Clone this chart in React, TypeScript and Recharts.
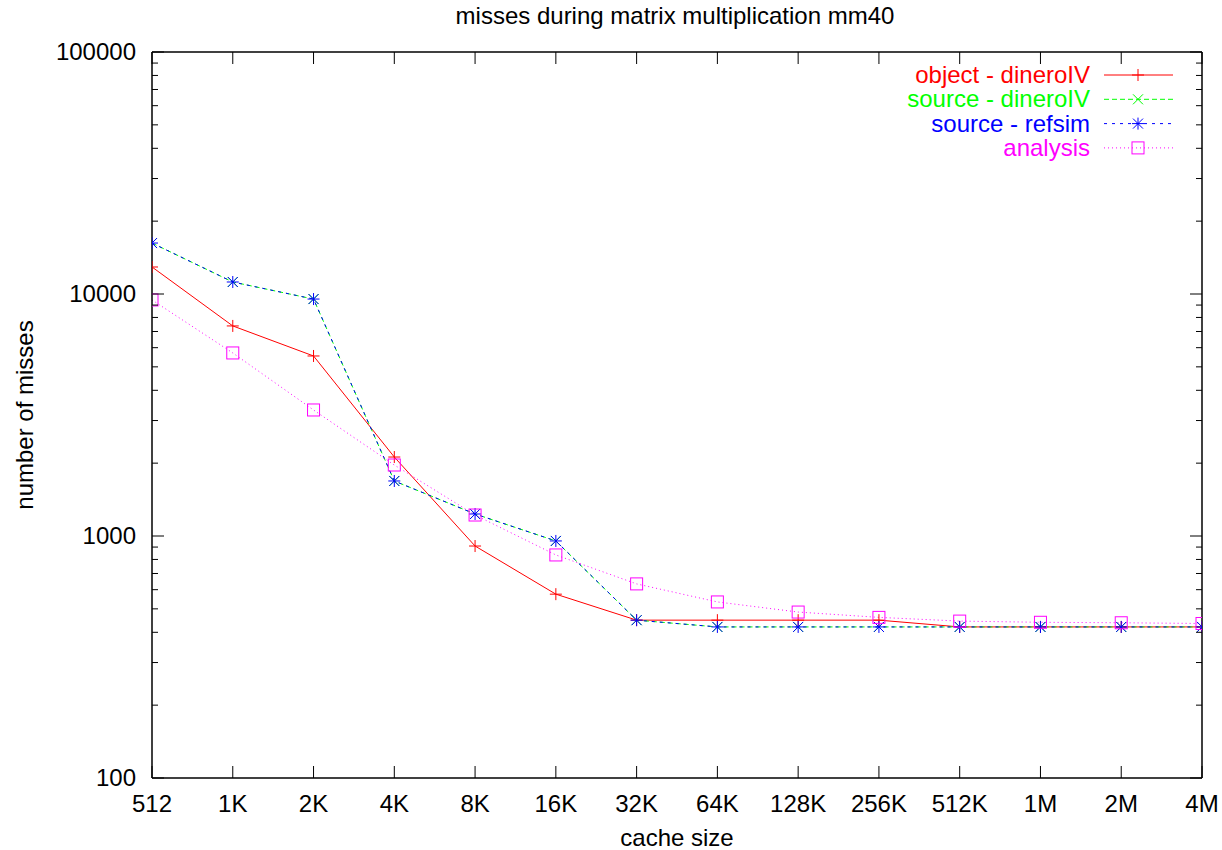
import React from 'react';
import { LineChart, Line, XAxis, YAxis, Legend } from 'recharts';

const cacheSizes = ['512', '1K', '2K', '4K', '8K', '16K', '32K', '64K', '128K', '256K', '512K', '1M', '2M', '4M'];
const objectDinero = [12930, 7380, 5545, 2120, 909, 575, 449, 449, 449, 449, 421, 421, 421, 421];
const sourceDinero = [16240, 11210, 9530, 1688, 1233, 954, 449, 421, 421, 421, 421, 421, 421, 421];
const sourceRefsim = [16240, 11210, 9530, 1688, 1233, 954, 449, 421, 421, 421, 421, 421, 421, 421];
const analysisMisses = [9450, 5707, 3317, 1965, 1221, 835, 634, 534, 485, 461, 445, 440, 438, 435];
const yMajorTicks = [100, 1000, 10000, 100000];
const yMinorMultipliers = [2, 3, 4, 5, 6, 7, 8, 9];
const seriesNames = ['object - dineroIV', 'source - dineroIV', 'source - refsim', 'analysis'];

const FONT = '"Liberation Sans", Arial, Helvetica, sans-serif';
const FS = 24;

const yTicks: number[] = [];
yMajorTicks.forEach((d, i) => {
  yTicks.push(d);
  if (i < yMajorTicks.length - 1) yMinorMultipliers.forEach((m) => yTicks.push(d * m));
});
yTicks.sort((a, b) => a - b);
const xTicks = cacheSizes.map((_, i) => i);

const data = cacheSizes.map((label, i) => ({
  x: i,
  label,
  obj: objectDinero[i],
  srcD: sourceDinero[i],
  srcR: sourceRefsim[i],
  ana: analysisMisses[i],
}));

const COLORS = ['#ff0000', '#00ff00', '#0000ff', '#ff00ff'];
const DASHES = [undefined, '5 3', '3 5', '1 3'];

const isMajor = (v: number) => yMajorTicks.includes(v);

const Marker = ({ kind, cx, cy, color }: any) => {
  const s = 6;
  const d = 5;
  if (kind === 'plus')
    return (
      <g stroke={color} strokeWidth={1} fill="none">
        <line x1={cx - s} x2={cx + s} y1={cy} y2={cy} />
        <line x1={cx} x2={cx} y1={cy - s} y2={cy + s} />
      </g>
    );
  if (kind === 'cross')
    return (
      <g stroke={color} strokeWidth={1} fill="none">
        <line x1={cx - d} x2={cx + d} y1={cy - d} y2={cy + d} />
        <line x1={cx - d} x2={cx + d} y1={cy + d} y2={cy - d} />
      </g>
    );
  if (kind === 'star')
    return (
      <g stroke={color} strokeWidth={1} fill="none">
        <line x1={cx - s} x2={cx + s} y1={cy} y2={cy} />
        <line x1={cx} x2={cx} y1={cy - s} y2={cy + s} />
        <line x1={cx - d} x2={cx + d} y1={cy - d} y2={cy + d} />
        <line x1={cx - d} x2={cx + d} y1={cy + d} y2={cy - d} />
      </g>
    );
  return <rect x={cx - 6} y={cy - 6} width={12} height={12} stroke={color} strokeWidth={1} fill="none" />;
};

const KINDS = ['plus', 'cross', 'star', 'square'];

const makeDot = (kind: string, color: string) => (props: any) => {
  const { cx, cy, index } = props;
  if (cx == null || cy == null) return <g key={`${kind}-${index}`} />;
  return (
    <g key={`${kind}-${index}`}>
      <Marker kind={kind} cx={cx} cy={cy} color={color} />
    </g>
  );
};

const LeftTick = (props: any) => {
  const { x, y, payload } = props;
  const v = payload.value;
  const major = isMajor(v);
  return (
    <g>
      <line x1={x} x2={x + (major ? 12 : 6)} y1={y} y2={y} stroke="#000" strokeWidth={1} />
      {major && (
        <text x={x - 16} y={y + 8} textAnchor="end" fontSize={FS} fontFamily={FONT} fill="#000">
          {v}
        </text>
      )}
    </g>
  );
};

const RightTick = (props: any) => {
  const { x, y, payload } = props;
  const major = isMajor(payload.value);
  return <line x1={x - (major ? 12 : 6)} x2={x} y1={y} y2={y} stroke="#000" strokeWidth={1} />;
};

const BottomTick = (props: any) => {
  const { x, y, payload } = props;
  return (
    <g>
      <line x1={x} x2={x} y1={y - 12} y2={y} stroke="#000" strokeWidth={1} />
      <text x={x} y={y + 34} textAnchor="middle" fontSize={FS} fontFamily={FONT} fill="#000">
        {cacheSizes[payload.value]}
      </text>
    </g>
  );
};

const TopTick = (props: any) => {
  const { x, y } = props;
  return <line x1={x} x2={x} y1={y} y2={y + 12} stroke="#000" strokeWidth={1} />;
};

const LegendContent = () => (
  <svg width={320} height={100} style={{ overflow: 'visible', display: 'block' }}>
    {seriesNames.map((name, i) => {
      const cy = 13 + i * 24.3;
      return (
        <g key={name}>
          <text x={210} y={cy + 8} textAnchor="end" fontSize={FS} fontFamily={FONT} fill={COLORS[i]}>
            {name}
          </text>
          <line x1={224} x2={293} y1={cy} y2={cy} stroke={COLORS[i]} strokeWidth={1} strokeDasharray={DASHES[i]} />
          <Marker kind={KINDS[i]} cx={258} cy={cy} color={COLORS[i]} />
        </g>
      );
    })}
  </svg>
);

const W = 1222;
const H = 850;

export default function App() {
  const axisLine = { stroke: '#000', strokeWidth: 1.5 };
  const keys = ['obj', 'srcD', 'srcR', 'ana'];
  return (
    <div style={{ position: 'relative', width: W, height: H, background: '#fff', overflow: 'hidden' }}>
      <style>{`html, body { margin: 0; padding: 0; overflow: hidden; }`}</style>
      <LineChart width={W} height={H} data={data} margin={{ top: 0, right: 0, bottom: 0, left: 0 }}>
        <XAxis
          dataKey="x"
          type="number"
          domain={[0, 13]}
          ticks={xTicks}
          interval={0}
          height={72}
          tickSize={0}
          tickMargin={0}
          tickLine={false}
          axisLine={axisLine}
          tick={<BottomTick />}
          allowDataOverflow
        />
        <XAxis
          xAxisId="top"
          orientation="top"
          dataKey="x"
          type="number"
          domain={[0, 13]}
          ticks={xTicks}
          interval={0}
          height={52}
          tickSize={0}
          tickMargin={0}
          tickLine={false}
          axisLine={axisLine}
          tick={<TopTick />}
          allowDataOverflow
        />
        <YAxis
          type="number"
          scale="log"
          domain={[100, 100000]}
          ticks={yTicks}
          interval={0}
          width={152}
          tickSize={0}
          tickMargin={0}
          tickLine={false}
          axisLine={axisLine}
          tick={<LeftTick />}
          allowDataOverflow
        />
        <YAxis
          yAxisId="right"
          orientation="right"
          type="number"
          scale="log"
          domain={[100, 100000]}
          ticks={yTicks}
          interval={0}
          width={20}
          tickSize={0}
          tickMargin={0}
          tickLine={false}
          axisLine={axisLine}
          tick={<RightTick />}
          allowDataOverflow
        />
        <Legend
          layout="vertical"
          align="center"
          verticalAlign="middle"
          content={<LegendContent />}
          wrapperStyle={{ position: 'absolute', left: 880, top: 62, width: 320, height: 100 }}
        />
        {keys.map((k, i) => (
          <Line
            key={k}
            dataKey={k}
            name={seriesNames[i]}
            stroke={COLORS[i]}
            strokeWidth={1}
            strokeDasharray={DASHES[i]}
            dot={makeDot(KINDS[i], COLORS[i])}
            activeDot={false}
            isAnimationActive={false}
            type="linear"
          />
        ))}
      </LineChart>
      <svg
        width={W}
        height={H}
        style={{ position: 'absolute', left: 0, top: 0, pointerEvents: 'none' }}
      >
        <text x={675} y={24} textAnchor="middle" fontSize={FS} fontFamily={FONT} fill="#000">
          misses during matrix multiplication mm40
        </text>
        <text x={677} y={846} textAnchor="middle" fontSize={FS} fontFamily={FONT} fill="#000">
          cache size
        </text>
        <text
          x={33}
          y={415}
          transform="rotate(-90 33 415)"
          textAnchor="middle"
          fontSize={FS}
          fontFamily={FONT}
          fill="#000"
        >
          number of misses
        </text>
      </svg>
    </div>
  );
}
